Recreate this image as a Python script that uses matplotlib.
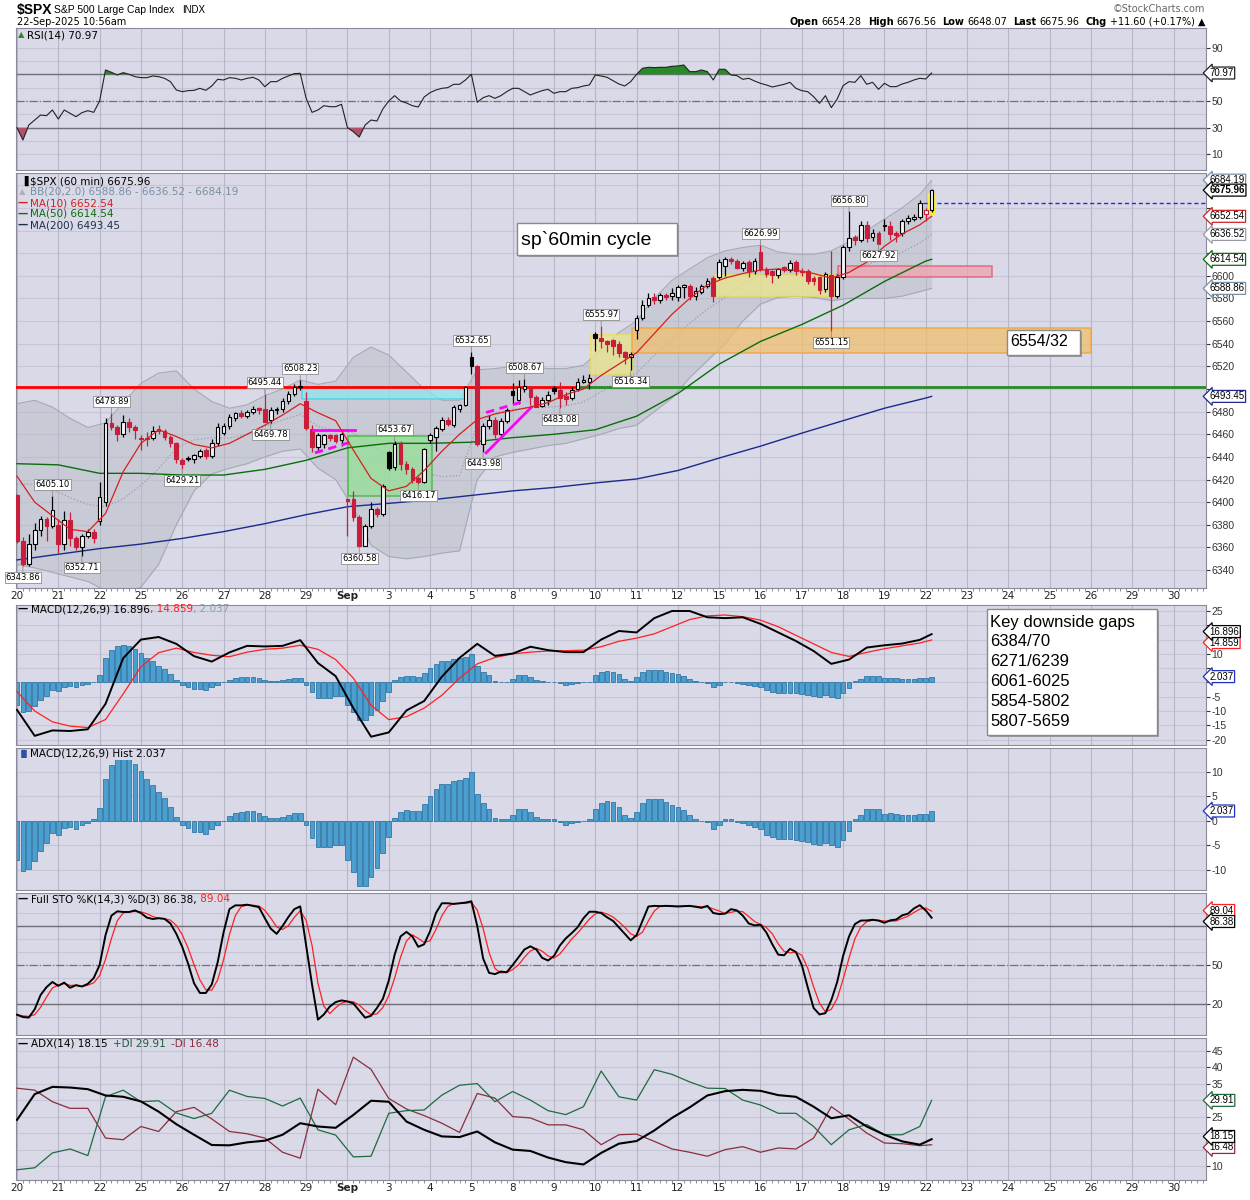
import numpy as np
import pandas as pd
import matplotlib
matplotlib.use('Agg')
import matplotlib.pyplot as plt
from matplotlib.patches import Rectangle
from matplotlib.transforms import IdentityTransform, Bbox, TransformedBbox

# ---- $SPX 60 min candles, 20-Aug-2025 .. 22-Sep-2025 10:56 ----
prev_close0 = 6411.0
opn = [6406, 6366, 6345, 6363, 6375, 6385, 6379, 6380, 6363, 6384, 6368, 6360, 6370, 6374,
       6383, 6400, 6470, 6466, 6460, 6471, 6466,
       6457, 6457, 6457, 6465, 6463, 6458, 6452,
       6437, 6439, 6438, 6441, 6446, 6441, 6452,
       6461, 6467, 6474, 6479, 6476, 6480, 6483,
       6482, 6473, 6481, 6482, 6489, 6496, 6502,
       6489, 6465, 6449, 6451, 6459, 6459, 6455,
       6403, 6403, 6387, 6361, 6379, 6394, 6390,
       6444, 6431, 6451, 6434, 6429, 6421, 6418,
       6455, 6458, 6465, 6473, 6468, 6482, 6486,
       6528, 6520, 6451, 6467, 6473, 6460, 6472,
       6498, 6490, 6500, 6501.5, 6493, 6485, 6490,
       6501, 6499, 6494, 6492, 6500, 6506, 6506,
       6549, 6545, 6542, 6543, 6540, 6533, 6528,
       6552, 6563, 6574, 6581, 6579, 6583, 6582,
       6581, 6590, 6591, 6582, 6586, 6591, 6598,
       6599, 6609, 6615, 6613, 6607, 6612, 6604,
       6621, 6606, 6604, 6601, 6608, 6605, 6612,
       6604, 6604, 6598, 6598.5, 6588, 6601, 6582,
       6599, 6625, 6634, 6632, 6645, 6634, 6638,
       6644, 6644, 6638, 6638, 6648, 6650, 6652,
       6654.28, 6658]
high = [6407, 6369, 6372, 6382, 6388, 6387, 6405.10, 6385, 6392, 6391, 6370, 6372, 6376, 6376,
        6418, 6474, 6478.89, 6468, 6477, 6474, 6468,
        6459, 6462, 6467, 6468, 6465, 6459, 6453,
        6439, 6441, 6443, 6447, 6448, 6456, 6470,
        6470, 6478, 6480, 6481, 6481, 6485, 6484,
        6495.44, 6484, 6484, 6492, 6498, 6504, 6508.23,
        6497, 6468, 6461, 6460, 6460, 6460, 6462,
        6404, 6410, 6389, 6381, 6400, 6396, 6416,
        6445, 6453.67, 6454, 6436, 6431, 6423, 6448,
        6461, 6467, 6475, 6475, 6486, 6487, 6503,
        6532.65, 6521, 6470, 6477, 6475, 6474, 6483,
        6505, 6508, 6508.67, 6503, 6495, 6493, 6498,
        6503, 6506.4, 6497, 6502, 6510, 6512, 6513,
        6550, 6555.97, 6543, 6544, 6542, 6534, 6533,
        6565, 6579, 6585, 6585, 6585, 6585, 6589,
        6592, 6593, 6593, 6590, 6593, 6598, 6600,
        6615, 6617, 6617, 6615, 6613, 6614, 6616,
        6626.99, 6608, 6605, 6607, 6609, 6614, 6614,
        6607, 6606, 6600, 6600, 6603, 6622, 6602,
        6627, 6656.80, 6636, 6648, 6648, 6641, 6640,
        6650, 6648, 6640, 6650, 6654, 6655, 6667,
        6660, 6676.56]
low = [6364, 6343.86, 6344, 6358, 6370, 6366, 6377, 6355, 6358, 6361, 6358, 6352.71, 6368, 6364,
       6380, 6397, 6464, 6454, 6458, 6462, 6456,
       6446, 6450, 6455, 6460, 6455, 6449, 6435,
       6429.21, 6436, 6435, 6439, 6438, 6439, 6450,
       6459, 6465, 6472, 6474, 6474, 6478, 6478,
       6470.5, 6469.78, 6478, 6480, 6487, 6494, 6499,
       6464, 6444, 6446, 6448, 6454, 6452, 6450,
       6370, 6383, 6360.58, 6361, 6377, 6387, 6388,
       6428, 6428, 6428, 6425, 6417, 6416.17, 6417,
       6452, 6445, 6463, 6467, 6466, 6480, 6485,
       6513, 6450, 6443.98, 6465, 6457, 6458, 6470,
       6488, 6487, 6497, 6486, 6484, 6484, 6486,
       6496, 6483.08, 6486, 6490, 6498, 6505, 6500,
       6534, 6536, 6532.7, 6530, 6528, 6522, 6516.34,
       6544.5, 6561, 6572, 6575, 6576, 6579, 6579,
       6578, 6580, 6579, 6579, 6584, 6589, 6576.6,
       6597, 6600, 6610, 6606, 6604, 6599, 6602,
       6604, 6599, 6594, 6598, 6603, 6603, 6601,
       6600, 6593, 6592, 6584, 6586, 6551.15, 6580,
       6597, 6622, 6627, 6630, 6630, 6631, 6627.92,
       6640, 6632, 6630, 6635, 6646, 6648, 6650,
       6648.07, 6656]
close = [6366, 6345, 6363, 6375, 6385, 6379, 6393, 6363, 6384, 6368, 6360, 6370, 6374, 6368,
         6405, 6470, 6466, 6460, 6471, 6466, 6464,
         6456, 6455.5, 6463, 6462.5, 6458, 6452, 6438,
         6434, 6438, 6442, 6445, 6441, 6452, 6466,
         6467, 6475, 6479, 6476, 6480, 6482.5, 6481,
         6471, 6481.6, 6482, 6489, 6496, 6502, 6502.5,
         6465.5, 6449, 6459, 6459.5, 6457, 6454, 6460,
         6401, 6387, 6361, 6379, 6394, 6390, 6414,
         6430, 6451, 6434, 6429, 6420, 6418, 6447,
         6459, 6465.5, 6473, 6469, 6484, 6486, 6501.5,
         6520, 6451, 6467, 6473, 6460, 6472, 6481,
         6495, 6502, 6503, 6493, 6484.5, 6490, 6495,
         6498, 6492, 6491.5, 6499, 6506.4, 6508, 6510,
         6545, 6542, 6540, 6538, 6532, 6528, 6531,
         6562.5, 6574, 6580, 6579, 6583, 6581, 6585,
         6590, 6592, 6582, 6587, 6591, 6595.6, 6582,
         6612, 6615, 6613, 6607, 6611, 6604, 6613,
         6606, 6602, 6601, 6606, 6605, 6611, 6604,
         6603, 6595.6, 6595, 6587.7, 6601.5, 6582.5, 6598.5,
         6625, 6633.6, 6632, 6645.3, 6633.6, 6638, 6628,
         6645, 6636.6, 6636, 6648, 6651, 6652, 6664.36,
         6658, 6675.96]

# one value per hour
rsi = [30, 20.75, 32, 35.75, 39.5, 39, 43.25, 36.5, 43.25, 40.75, 38.25, 41.25, 42.75, 41.5,
       50, 73.25, 71.5, 69.5, 71.25, 70, 68.25,
       67.5, 67.5, 68.75, 68.25, 67, 64.5, 58.25,
       57, 57.75, 58, 59.5, 58, 61.25, 66.25,
       65.75, 67.5, 67, 65.75, 67, 67.75, 65.75,
       60.75, 64.5, 64.5, 67, 68.75, 70.5, 70.75,
       52, 41.5, 43.25, 46.5, 45.75, 45.75, 47.5,
       30, 27, 23, 32, 35.75, 35, 44,
       50, 54, 50, 48.5, 46.5, 45.5, 53,
       56.25, 58.25, 59.5, 60, 62.5, 62.5, 65.75,
       70, 49, 52.5, 54, 52, 54, 57,
       59.5, 59.5, 57, 54.5, 56.25, 57.75, 58.75,
       55.75, 57, 57, 59.5, 60, 61.25, 62,
       69.5, 68.75, 67.75, 65.25, 62.75, 61.25, 64.5,
       70, 74.5, 75.25, 75, 75.25, 75.25, 76,
       76.25, 77, 72, 72, 73.25, 72, 65.75,
       73.75, 73.75, 69.5, 69, 66.25, 67, 65,
       63.25, 62, 60.5, 61.5, 62.5, 64, 59.5,
       57.75, 57, 53.25, 48.25, 54, 45, 51.5,
       61.5, 64.5, 64, 69, 62.5, 64, 58.75,
       63.25, 60.75, 60.75, 62.75, 64, 65.75, 67,
       66.5, 70.97]
hist = [-7.9, -10.2, -9.9, -8.1, -6.1, -4.6, -2.5, -2.9, -1.5, -1.3, -1.7, -0.8, -0.5, 0.3,
        2.6, 8.6, 11.4, 12.9, 13.2, 12.6, 11.7,
        10.3, 8.6, 7.4, 5.9, 4.7, 2.8, 0.8,
        -0.8, -1.5, -2.3, -2.3, -2.7, -1.7, -0.8,
        0.05, 1, 1.6, 1.8, 2, 2, 1.6,
        1, 0.6, 0.6, 0.9, 1.2, 1.6, 1.6,
        -0.8, -3.4, -5.3, -5.3, -5.3, -4.9, -4.9,
        -8, -10.4, -13.2, -13.2, -11.4, -9.7, -6.6,
        -3.2, 0.7, 1.8, 2.3, 2.1, 2, 3.4,
        5.1, 6.6, 7.5, 7.5, 8.2, 8.4, 8.8,
        9.9, 5.6, 3.6, 2.5, 0.6, 0.3, 0.3,
        1.3, 2.5, 2.5, 1.8, 0.8, 0.5, 0.3,
        0.3, -0.3, -0.75, -0.4, -0.2, 0.05, 0.3,
        2.5, 3.6, 4, 3.8, 2.9, 1.3, 0.6,
        1.8, 3.6, 4.5, 4.5, 4.5, 3.8, 3.2,
        2.9, 2.2, 1.2, 0.5, 0.05, -0.3, -1.6,
        -0.75, 0.3, 0.3, -0.2, -0.5, -0.9, -1.2,
        -1.7, -2.8, -3.3, -3.6, -3.6, -3.6, -3.8,
        -4, -4.3, -4.7, -5, -4.5, -5, -5.3,
        -3.8, -2, 0.5, 1.3, 2.4, 2.4, 2.4,
        1.5, 1.7, 1.5, 1.2, 1.3, 1.3, 1.5,
        1.4, 2.037]
stoch_k = [11.8, 10, 9.6, 16, 27, 33, 37, 34, 36.5, 32.5, 34.5, 33.5, 35.5, 40,
           50, 73, 88, 91.3, 90.8, 90.8, 92,
           90, 86.5, 85.4, 86, 85.5, 82, 74,
           64, 51, 36, 28.5, 28.5, 35, 52,
           75, 93, 95.9, 95.9, 96.4, 95.5, 94.5,
           86, 78, 74, 80, 87, 93, 95.1,
           65, 35, 8, 12, 18, 21.5, 22.8,
           22, 20.5, 15, 9.5, 11, 17, 24,
           38, 58, 72, 75.5, 72, 64, 66,
           76, 90, 97.5, 97.5, 97, 97.5, 98,
           99, 80, 55, 44, 43, 45, 44.5,
           50, 56, 62, 64.4, 62, 55.5, 53.5,
           57, 65, 70.5, 74.5, 79, 86, 91,
           91, 90, 86.7, 84, 79, 74, 69,
           73, 84, 95, 95.5, 95.3, 95.5, 95.3,
           95, 95.3, 95.5, 94.8, 94, 95.5, 90,
           89.2, 89.5, 93, 92, 88, 82, 80.5,
           81, 75, 66, 58, 57.5, 62.5, 60,
           50, 33, 17, 12, 13, 23, 37,
           57, 72, 81.5, 84.2, 84.3, 84.8, 84.2,
           82.5, 84.4, 85, 88.2, 89.5, 93.5, 96,
           92, 86.38]

# smoother lines, read every 3 hours (last value = latest bar)
ma10 = [6423, 6400, 6388, 6376, 6374, 6390, 6427, 6452, 6464, 6458, 6451, 6448, 6452, 6460,
        6468, 6477, 6487, 6479, 6472, 6446, 6421, 6410, 6414, 6428, 6445, 6460, 6473, 6478,
        6481, 6484, 6488, 6495, 6500, 6512, 6522, 6532, 6549, 6566, 6580, 6592, 6598, 6602,
        6605, 6606, 6605, 6602, 6598, 6603, 6612, 6626, 6637, 6645, 6652.54]
bb_up = [6487, 6490, 6484, 6474, 6466, 6470, 6488, 6505, 6514, 6516, 6500, 6489, 6483, 6486,
         6494, 6500, 6508, 6504, 6507, 6528, 6537, 6530, 6515, 6500, 6490, 6490, 6517, 6518,
         6520, 6520, 6518, 6518, 6521, 6535, 6550, 6560, 6580, 6596, 6606, 6616, 6622, 6625,
         6627, 6621, 6619, 6619, 6622, 6630, 6640, 6650, 6660, 6672, 6684.19]
bb_lo = [6345, 6342, 6338, 6334, 6330, 6322, 6318, 6325, 6345, 6380, 6410, 6425, 6430, 6434,
         6440, 6445, 6447, 6430, 6420, 6395, 6362, 6352, 6350, 6352, 6355, 6357, 6420, 6440,
         6444, 6447, 6450, 6452, 6456, 6460, 6465, 6468, 6480, 6492, 6510, 6525, 6540, 6560,
         6575, 6581, 6582, 6581, 6578, 6580, 6580, 6580, 6582, 6586, 6588.86]
macd_line = [-9.6, -18.7, -16.8, -17, -16.4, -7.5, 8.5, 15, 15.9, 13.5, 9.2, 7.3, 10.5, 12.8,
             12.6, 12.8, 14.8, 6.8, 2.2, -9, -19, -17.5, -9.8, -6.5, 2, 8.6, 13.5, 9.3,
             10.1, 12.5, 11.3, 10.6, 10.6, 15, 18, 17.5, 22.5, 25, 25, 22.8, 22.5, 22.8,
             20.5, 17.5, 14.5, 11, 6.5, 8, 12.2, 13, 13.6, 14.9, 16.896]
macd_sig = [-3.2, -10, -13.8, -15.3, -15.8, -13, -4, 5.5, 10.4, 12, 10.5, 9.5, 9, 10.6,
            11.6, 12, 13, 11.6, 8, 1.5, -8, -13, -12, -9, -4.5, 1.5, 6.5, 8.7,
            10, 10.6, 11, 11.1, 11.3, 12.5, 14.4, 15.5, 17, 19.5, 22, 23.3, 23.6, 23,
            21.8, 19.5, 16.5, 13.5, 10.5, 9.1, 10.5, 11.8, 12.8, 13.8, 14.859]
adx = [24, 31.8, 34, 33.8, 33.3, 31.4, 31, 29.6, 26.5, 22.7, 19.5, 16.4, 16.3, 17.2,
       17.7, 19.5, 23, 22, 21.6, 25.5, 29.8, 29.5, 23.5, 21, 19, 18.8, 20.5, 17.2,
       15, 14.6, 12.6, 11.2, 10.5, 14, 16.8, 17.6, 20.8, 24.6, 27.8, 31.4, 32.7, 33.1,
       32.8, 31.5, 31, 28, 24.5, 25.4, 22, 19.5, 17.5, 16.5, 18.15]
plus_di = [8.9, 9.5, 14, 15.2, 13.2, 31, 33, 29.5, 29.8, 26.1, 24.4, 26, 33, 31.1,
           30.5, 28.2, 30.6, 21, 19.4, 12.8, 13, 26, 26.8, 27, 31.5, 34.5, 35, 29.5,
           32.6, 30, 26.8, 25.6, 28, 38.8, 31, 30, 39.2, 37.8, 35.5, 33.6, 33.5, 30,
           28.5, 26, 26, 22, 16.5, 21, 22.6, 19.5, 19.5, 22, 29.91]
minus_di = [33.6, 33, 29.5, 27.5, 27.5, 18.5, 18, 22, 20.5, 26.5, 27.8, 24.3, 20.5, 19.8,
            18.5, 14.2, 12.4, 33.3, 28.6, 43, 39.3, 30.5, 27.3, 25.3, 23, 20.2, 32, 30.6,
            25, 24.6, 22.5, 22.5, 21, 16.5, 19.5, 19.7, 17.5, 15.2, 14.2, 13, 15, 15.9,
            14.2, 15.5, 15.2, 18.5, 28, 24.2, 20, 17, 16.8, 16.2, 16.48]
# read once per session (last value = latest bar)
ma50 = [6434, 6433, 6425.5, 6425.5, 6424, 6424, 6429, 6437, 6448, 6452, 6452, 6453, 6457,
        6460, 6464, 6476, 6496, 6522, 6542, 6557, 6574, 6595, 6613, 6614.54]
ma200 = [6349, 6354, 6359, 6363, 6368, 6374, 6381, 6389, 6396, 6399, 6402, 6406, 6410,
         6413, 6417, 6420.5, 6428, 6439, 6449.5, 6461, 6472, 6483, 6492, 6493.45]

day_labels = ['20', '21', '22', '25', '26', '27', '28', '29', 'Sep', '3', '4', '5', '8', '9',
              '10', '11', '12', '15', '16', '17', '18', '19', '22', '23', '24', '25', '26',
              '29', '30']

# labelled swing highs / lows
mark_bar = [1, 6, 11, 16, 28, 42, 43, 48, 58, 64, 68, 77, 79, 86, 92, 99, 104, 126, 138, 141, 146]
mark_val = [6343.86, 6405.10, 6352.71, 6478.89, 6429.21, 6495.44, 6469.78, 6508.23, 6360.58,
            6453.67, 6416.17, 6532.65, 6443.98, 6508.67, 6483.08, 6555.97, 6516.34, 6626.99,
            6551.15, 6656.80, 6627.92]
mark_high = [False, True, False, True, False, True, False, True, False, True, False, True,
             False, True, False, True, False, True, False, True, False]

# hand-drawn zones (bar range, price range)
zone_x0 = [48.3, 56.1, 97.2, 104.3, 118.3, 139.2]
zone_x1 = [76.2, 70.3, 104.3, 182.0, 138.5, 165.3]
zone_lo = [6491, 6405.5, 6513, 6532, 6582.5, 6599]
zone_hi = [6502, 6458.8, 6548, 6554, 6601, 6609]
zone_fc = ['#8ee6ee', '#94e094', '#ece68c', '#f0bf6e', '#ece68c', '#eea3ae']
zone_ec = ['#3ad7e6', '#3cb43c', '#f2e23c', '#f0a438', '#f2e23c', '#e05a6e']
level = 6502
level_switch = 95.5
prev_close = 6664.36
gaps = ['6384/70', '6271/6239', '6061-6025', '5854-5802', '5807-5659']

# ---------------------------------------------------------------
N = len(close)
x = np.arange(N)
opn, high, low, close = map(np.array, (opn, high, low, close))
W, H = 1250, 1200
BG, GRID_H, GRID_V, SPINE = '#d9d9e7', '#c6c6d6', '#b6b6c8', '#8a8a9c'
RED = '#c81e3c'
X0, X1 = -0.17, 201.5
day_pos = np.arange(0, 7 * len(day_labels), 7)
TAGFONT = 'Liberation Sans'

fig = plt.figure(figsize=(W / 100, H / 100), dpi=100)
PX = IdentityTransform()


def xs_for(vals, step):
    xs = list(range(0, N - 1, step))
    if xs[-1] != N - 1:
        xs.append(N - 1)
    assert len(xs) == len(vals), (step, len(xs), len(vals))
    return np.array(xs)


def put(xp, yp, s, **kw):
    kw.setdefault('fontsize', 7)
    kw.setdefault('va', 'center')
    return fig.text(xp, H - yp, s, transform=PX, parse_math=False, **kw)


def chain(xp, yp, parts, align='left'):
    r = fig.canvas.get_renderer()
    objs, widths = [], []
    for s, kw in parts:
        kw = dict(kw)
        gap = kw.pop('gap', 0)
        o = put(0, yp, s, **kw)
        objs.append((o, gap))
        widths.append(o.get_window_extent(r).width + gap)
    cur = xp - sum(widths) if align == 'right' else xp
    for (o, gap), w in zip(objs, widths):
        o.set_x(cur + gap)
        cur += w


def panel(top, bottom, ylim, ticks, hgrid):
    ax = fig.add_axes([16 / W, 1 - bottom / H, 1190 / W, (bottom - top) / H])
    ax.set_facecolor(BG)
    ax.set_xlim(X0, X1)
    ax.set_ylim(*ylim)
    for g in hgrid:
        ax.axhline(g, color=GRID_H, lw=0.8, zorder=0)
    for d in day_pos:
        ax.axvline(d, color=GRID_V, lw=0.8, zorder=0)
    ax.yaxis.tick_right()
    ax.set_yticks(ticks)
    ax.set_yticklabels([f'{t:g}' for t in ticks], family=TAGFONT)
    ax.tick_params(axis='y', labelsize=7.5, length=3, pad=1, colors='#333333')
    ax.set_xticks(day_pos)
    ax.tick_params(axis='x', length=0, labelbottom=False)
    for s in ax.spines.values():
        s.set_color(SPINE)
    return ax


def tags(ax, items, tol, min_gap=11.0):
    # value tags on the right edge; stacked tags are spread so each stays readable,
    # tick labels underneath them are hidden
    ys = [ax.transData.transform((0, v))[1] for v, *_ in items]
    order = sorted(range(len(items)), key=lambda i: ys[i])
    pos = [ys[i] for i in order]
    for _ in range(20):
        for j in range(1, len(pos)):
            if pos[j] - pos[j - 1] < min_gap:
                mid = (pos[j] + pos[j - 1]) / 2
                pos[j - 1], pos[j] = mid - min_gap / 2, mid + min_gap / 2
    shift = {i: (p - ys[i]) * 72 / 100 for i, p in zip(order, pos)}
    for i, (val, text, ec, bold) in enumerate(items):
        ax.annotate(text, xy=(1, val), xycoords=('axes fraction', 'data'),
                    xytext=(2.5, shift[i]), textcoords='offset points', ha='left', va='center',
                    fontsize=7, family=TAGFONT, fontweight='bold' if bold else 'normal',
                    zorder=20, annotation_clip=False,
                    bbox=dict(boxstyle='larrow,pad=0.1', fc='white', ec=ec, lw=0.9))
    vals = [it[0] for it in items]
    for lab, t in zip(ax.get_yticklabels(), ax.get_yticks()):
        if any(abs(t - v) < tol for v in vals):
            lab.set_visible(False)


def day_axis(ax):
    ax.tick_params(axis='x', labelbottom=True, labelsize=7.5, pad=2, colors='#222222')
    ax.set_xticklabels(day_labels)
    ax.get_xticklabels()[8].set_fontweight('bold')
    ax.set_xticks(np.arange(0, 202), minor=True)
    ax.tick_params(axis='x', which='minor', length=2, color='#777777')


# ---------------- header ----------------
put(17, 10, '$SPX', fontsize=10, fontweight='bold', family='Liberation Sans')
put(54, 10, 'S&P 500 Large Cap Index', fontsize=7.5, family='Liberation Sans')
put(182, 10, 'INDX', fontsize=7, family='Liberation Sans')
put(17, 22, '22-Sep-2025 10:56am', fontsize=7)
put(1205, 9, '\u00a9StockCharts.com', fontsize=7, ha='right', color='#666666')
chain(1205, 22, [('Open', dict(fontweight='bold')), ('6654.28', dict(gap=3)),
                 ('High', dict(fontweight='bold', gap=6)), ('6676.56', dict(gap=3)),
                 ('Low', dict(fontweight='bold', gap=6)), ('6648.07', dict(gap=3)),
                 ('Last', dict(fontweight='bold', gap=6)), ('6675.96', dict(gap=3)),
                 ('Chg', dict(fontweight='bold', gap=6)), ('+11.60 (+0.17%) \u25b2', dict(gap=3))],
      align='right')

# ---------------- RSI ----------------
ax_r = panel(28, 170, (-1.7, 104.7), [10, 30, 50, 70, 90], range(10, 100, 10))
r = np.array(rsi)
ax_r.axhline(70, color='#707078', lw=1)
ax_r.axhline(30, color='#707078', lw=1)
ax_r.axhline(50, color='#707078', lw=0.9, ls='-.')
ax_r.fill_between(x, r, 70, where=r >= 70, interpolate=True, color='#2a8a2a', lw=0, zorder=2)
ax_r.fill_between(x, r, 30, where=r <= 30, interpolate=True, color='#b0506a', lw=0, zorder=2)
ax_r.plot(x, r, color='#222222', lw=0.8, zorder=3)
put(18, 35, '\u25b2', fontsize=6, color='#2a8a2a')
put(27, 35, 'RSI(14) 70.97', fontsize=7.5)
tags(ax_r, [(rsi[-1], '70.97', '#222222', False)], 6)

# ---------------- price ----------------
ax_p = panel(173, 588, (6324.2, 6690.8), list(range(6340, 6681, 20)), range(6340, 6681, 20))
day_axis(ax_p)

up, lo = np.array(bb_up), np.array(bb_lo)
xb = xs_for(bb_up, 3)
ax_p.fill_between(xb, lo, up, color='#b8bec6', alpha=0.5, lw=0, zorder=1)
ax_p.plot(xb, up, color='#a4aab4', lw=0.8, zorder=1)
ax_p.plot(xb, lo, color='#a4aab4', lw=0.8, zorder=1)
ax_p.plot(xb, (up + lo) / 2, color='#9c9cac', lw=0.9, ls=':', zorder=2)

for i in range(len(zone_x0)):
    ax_p.add_patch(Rectangle((zone_x0[i], zone_lo[i]), zone_x1[i] - zone_x0[i],
                             zone_hi[i] - zone_lo[i], fc=zone_fc[i], ec=zone_ec[i],
                             lw=1.2, alpha=0.75, zorder=2))

ax_p.plot([X0, level_switch], [level, level], color='#ff0000', lw=2, zorder=3)
ax_p.plot([level_switch, X1], [level, level], color='#2a8a2a', lw=2, zorder=3)
ax_p.plot([153.5, X1], [prev_close, prev_close], color='#2030e0', lw=1, ls=(0, (3, 2)), zorder=3)

# magenta pattern lines
ax_p.plot([50.2, 57.3], [6463.4, 6463.4], color='#ff00ff', lw=2, zorder=6)
ax_p.plot([50.5, 57.0], [6443.6, 6453.8], color='#ff00ff', lw=2, ls=(0, (3, 2)), zorder=6)
ax_p.plot([79.5, 87.2], [6443.6, 6484.0], color='#ff00ff', lw=2, zorder=6)
ax_p.plot([79.5, 86.3], [6479.2, 6489.7], color='#ff00ff', lw=2, ls=(0, (3, 2)), zorder=6)

ax_p.plot(xs_for(ma200, 7), ma200, color='#1c2a8a', lw=1, zorder=3)
ax_p.plot(xs_for(ma50, 7), ma50, color='#0a6e0a', lw=1, zorder=3)
ax_p.plot(xs_for(ma10, 3), ma10, color='#d42020', lw=0.9, zorder=6)

# latest-bar highlight
ax_p.add_patch(Rectangle((N - 1.6, 6652.6), 1.2, 20.5, fc='#f8f040', ec='none', zorder=4))

prev_c = np.r_[prev_close0, close[:-1]]
col = np.where(close < prev_c, RED, '#000000')
top = np.maximum(opn, close)
bot = np.minimum(opn, close)
ax_p.vlines(x, top, high, colors=col, lw=0.9, zorder=5)
ax_p.vlines(x, low, bot, colors=col, lw=0.9, zorder=5)
fcs = [c if f else '#f4f4f8' for c, f in zip(col, close < opn)]
ax_p.bar(x, np.maximum(top - bot, 0.35), bottom=bot, width=0.62, color=fcs,
         edgecolor=col, linewidth=0.8, zorder=5)

for b, v, hi in zip(mark_bar, mark_val, mark_high):
    ax_p.annotate(f'{v:.2f}', xy=(b, v), xytext=(0, 5 if hi else -5), textcoords='offset points',
                  ha='center', va='bottom' if hi else 'top', fontsize=6, zorder=9,
                  bbox=dict(boxstyle='square,pad=0.12', fc='white', ec='#8c8c8c', lw=0.6),
                  arrowprops=dict(arrowstyle='-', color='#8c8c8c', lw=0.6,
                                  shrinkA=0, shrinkB=0))

put(20, 181, '\u2590', fontsize=7)
put(30, 181, '$SPX (60 min) 6675.96', fontsize=7.5)
put(19, 192, '\u25b2', fontsize=6, color='#b0b0b8')
put(30, 192, 'BB(20,2.0) 6588.86 - 6636.52 - 6684.19', fontsize=7.5, color='#7890a4')
for yy, s, c in [(203, 'MA(10) 6652.54', '#d42020'), (214, 'MA(50) 6614.54', '#0a6e0a'),
                 (225, 'MA(200) 6493.45', '#1c2f48')]:
    put(18, yy, '\u2014', fontsize=7.5, color=c, fontweight='bold')
    put(30, yy, s, fontsize=7.5, color=c)

tags(ax_p, [(6684.19, '6684.19', '#7890a4', False), (6652.54, '6652.54', '#d42020', False),
            (6636.52, '6636.52', '#9a9aa8', False), (6614.54, '6614.54', '#0a6e0a', False),
            (6588.86, '6588.86', '#7890a4', False), (6493.45, '6493.45', '#1c2a8a', False),
            (6675.96, '6675.96', '#000000', True)], 7.5, min_gap=10.0)


# text boxes drawn on the chart
def note_box(x0, y0, x1, y1):
    fig.patches.append(Rectangle((x0 + 2, H - y1 - 2), x1 - x0, y1 - y0, transform=PX,
                                 fc='#9a9aa0', ec='none', zorder=10))
    fig.patches.append(Rectangle((x0, H - y1), x1 - x0, y1 - y0, transform=PX,
                                 fc='white', ec='#8a8a8a', lw=1, zorder=11))


note_box(517, 223, 677, 255)
put(521, 240, 'sp`60min cycle', fontsize=14, family='Liberation Sans', zorder=12)
note_box(1007, 330, 1080, 355)
put(1010, 342, '6554/32', fontsize=11.5, family='Liberation Sans', zorder=12)

# ---------------- MACD ----------------
ax_m = panel(605, 745, (-21.9, 27.1), list(range(-20, 26, 5)), range(-20, 26, 5))
ax_m.bar(x, hist, width=0.8, color='#4a9fd0', edgecolor='#1f6a99', linewidth=0.5, zorder=2)
ax_m.plot(xs_for(macd_sig, 3), macd_sig, color='#ff2020', lw=0.9, zorder=3)
ax_m.plot(xs_for(macd_line, 3), macd_line, color='#000000', lw=1.4, zorder=4)
chain(18, 609, [('\u2014', dict(fontweight='bold', fontsize=7.5)),
                ('MACD(12,26,9) 16.896', dict(fontsize=7.5, gap=3)),
                (', 14.859', dict(fontsize=7.5, color='#ff2020')),
                (', 2.037', dict(fontsize=7.5, color='#8aa0b4'))])
tags(ax_m, [(2.037, '2.037', '#2030c0', False), (14.859, '14.859', '#ff2020', False),
            (16.896, '16.896', '#000000', False)], 3.5)

note_box(987, 609, 1157, 735)
for k, s in enumerate(['Key downside gaps'] + gaps):
    put(990, 622 + 20 * k, s, fontsize=12, family='Liberation Sans', zorder=12)

# ---------------- MACD histogram ----------------
ax_h = panel(748, 890, (-14.1, 14.9), [-10, -5, 0, 5, 10], range(-10, 11, 5))
bars = ax_h.bar(x, hist, width=0.8, color='#4a9fd0', edgecolor='#1f6a99', linewidth=0.5,
                zorder=2)
clip = TransformedBbox(Bbox([[X0, -14.1], [X1, 12.5]]), ax_h.transData)
for p in bars:
    p.set_clip_box(clip)
put(18, 754, '\u2590\u258c', fontsize=6, color='#3050a0')
put(30, 754, 'MACD(12,26,9) Hist 2.037', fontsize=7.5)
tags(ax_h, [(2.037, '2.037', '#2030c0', False)], 1.6)

# ---------------- Full stochastics ----------------
ax_s = panel(893, 1035, (-3.8, 105.4), [20, 50, 80], range(10, 100, 10))
ax_s.axhline(80, color='#707078', lw=1)
ax_s.axhline(20, color='#707078', lw=1)
ax_s.axhline(50, color='#707078', lw=0.9, ls='-.')
k_line = pd.Series(stoch_k)
d_line = k_line.rolling(3, min_periods=1).mean()
ax_s.plot(x, d_line, color='#ff2020', lw=0.9, zorder=3)
ax_s.plot(x, k_line, color='#000000', lw=1.4, zorder=4)
chain(18, 899, [('\u2014', dict(fontweight='bold', fontsize=7.5)),
                ('Full STO %K(14,3) %D(3) 86.38,', dict(fontsize=7.5, gap=3)),
                (' 89.04', dict(fontsize=7.5, color='#ff2020'))])
tags(ax_s, [(89.04, '89.04', '#ff2020', False), (86.38, '86.38', '#000000', False)], 7)

# ---------------- ADX ----------------
ax_a = panel(1038, 1180, (5.8, 48.8), list(range(10, 46, 5)), range(10, 46, 5))
day_axis(ax_a)
ax_a.plot(xs_for(minus_di, 3), minus_di, color='#8b2d3c', lw=0.9, zorder=3)
ax_a.plot(xs_for(plus_di, 3), plus_di, color='#1f6b3f', lw=0.9, zorder=3)
ax_a.plot(xs_for(adx, 3), adx, color='#000000', lw=1.5, zorder=4)
chain(18, 1044, [('\u2014', dict(fontweight='bold', fontsize=7.5)),
                 ('ADX(14) 18.15', dict(fontsize=7.5, gap=3)),
                 ('+DI 29.91', dict(fontsize=7.5, color='#1f5a3a', gap=5)),
                 ('-DI 16.48', dict(fontsize=7.5, color='#8b2d3c', gap=5))])
tags(ax_a, [(16.48, '16.48', '#8b2d3c', False), (18.15, '18.15', '#000000', False),
            (29.91, '29.91', '#1f6b3f', False)], 2.4)

fig.savefig('out.png', dpi=100, facecolor='white')
